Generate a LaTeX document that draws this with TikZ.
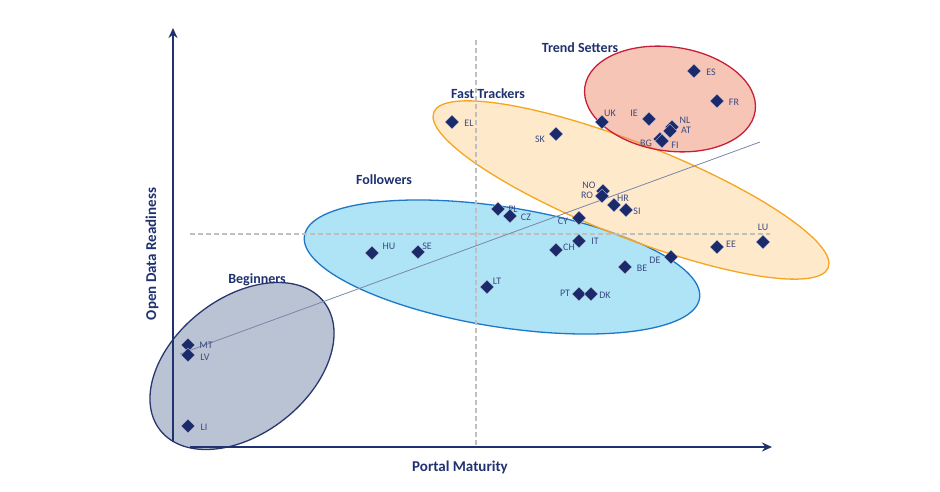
\documentclass[tikz,border=0pt]{standalone}
\usepackage{fontspec}
\setmainfont{Carlito}
\usetikzlibrary{shapes.geometric,arrows.meta}
\definecolor{navy}{HTML}{1B2A6B}
\definecolor{axis}{HTML}{1F3170}
\definecolor{trend}{RGB}{120,135,170}
\definecolor{begE}{RGB}{40,55,110}
\definecolor{begF}{RGB}{130,145,175}
\definecolor{folE}{RGB}{30,120,200}
\definecolor{folF}{RGB}{110,205,240}
\definecolor{fasE}{RGB}{245,165,30}
\definecolor{fasF}{RGB}{253,215,160}
\definecolor{treE}{RGB}{200,30,60}
\definecolor{treF}{RGB}{240,150,120}
\tikzset{
 pt/.style={diamond,fill=navy,draw=white!70!navy,line width=0.3pt,inner sep=0pt,minimum size=14pt},
 lab/.style={font=\fontsize{10}{11}\selectfont,text=navy!85!white,inner sep=0.5pt},
 grp/.style={font=\bfseries\fontsize{14}{15}\selectfont,text=axis},
 ell/.style={line width=1.3pt,fill opacity=0.55,draw opacity=1},
 quad/.style={draw=gray!50,line width=1.3pt,dash pattern=on 5pt off 3pt},
}
\begin{document}
\begin{tikzpicture}[x=1pt,y=-1pt]
\useasboundingbox (0,0) rectangle (940,492);
\draw[ell,draw=begE,fill=begF] (242,366) ellipse[x radius=104,y radius=68,rotate=38];
\draw[ell,draw=folE,fill=folF] (502,267) ellipse[x radius=200,y radius=60,rotate=-9];
\draw[ell,draw=fasE,fill=fasF] (631,190) ellipse[x radius=212,y radius=47,rotate=-21.5];
\draw[ell,draw=treE,fill=treF] (670,99) ellipse[x radius=86,y radius=52,rotate=-8];
\coordinate (v1) at (476,40);
\coordinate (v2) at (476,445);
\coordinate (h1) at (190,234);
\coordinate (h2) at (770,234);
\draw[quad] (v1) -- (v2);
\draw[quad] (h1) -- (h2);
\coordinate (t1) at (180,354);
\coordinate (t2) at (760,142);
\draw[draw=trend,line width=0.8pt] (t1) -- (t2);
\coordinate (o1) at (173,442);
\coordinate (yt) at (173,28);
\coordinate (o2) at (190,447);
\coordinate (xt) at (772,447);
\draw[draw=axis,line width=2pt,-{Stealth[length=10pt,width=9pt]}] (o1) -- (yt);
\draw[draw=axis,line width=2pt,-{Stealth[length=10pt,width=9pt]}] (o2) -- (xt);
\node[grp,font=\bfseries\fontsize{15}{16}\selectfont] (xl) at (460,467) {Portal Maturity};
\node[grp,font=\bfseries\fontsize{15}{16}\selectfont,rotate=90] (yl) at (152,254) {Open Data Readiness};
\node[grp] (g1) at (580,48) {Trend Setters};
\node[grp] (g2) at (488,94) {Fast Trackers};
\node[grp] (g3) at (384,180) {Followers};
\node[grp] (g4) at (257,280) {Beginners};
\foreach \n/\x/\y/\lx/\ly in {
 ES/694/71/711/72, FR/717/101/734/102, UK/602/122/610/113, IE/649/119/634/113,
 NL/672/127/685/120, AT/670/131/686/130, BG/660/139/646/143, FI/662/141/675/145,
 EL/452/122/469/123, SK/556/134/540/139, NO/603/191/589/185, RO/602/196/587/195,
 HR/614/205/623/198, SI/626/210/637/211, PL/498/209/513/209, CZ/510/216/526/217,
 CY/579/218/563/221, LU/763/242/763/227, EE/717/247/731/244, HU/372/253/389/246,
 SE/418/252/427/246, CH/556/250/569/247, IT/579/241/595/241, DE/671/257/655/260,
 BE/625/267/642/268, LT/487/287/497/281, PT/579/294/565/293, DK/591/294/605/295,
 MT/188/345/206/345, LV/188/355/205/357, LI/188/426/204/427}
{
 \node[pt] (p\n) at (\x,\y) {};
 \node[lab] (l\n) at (\lx,\ly) {\n};
}
\end{tikzpicture}
\end{document}
